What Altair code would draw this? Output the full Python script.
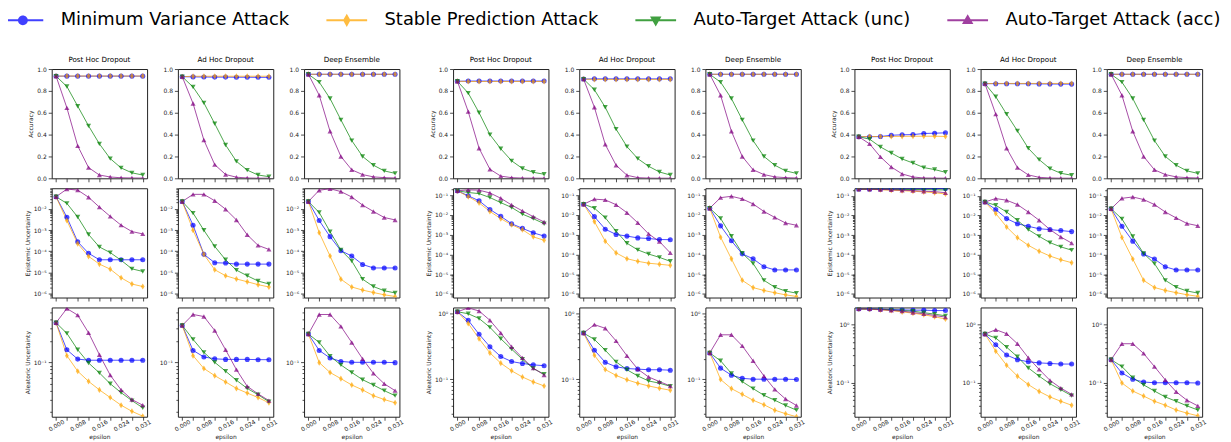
import altair as alt
import pandas as pd

# ---------------- data ----------------
EPS = [0.0, 0.00392, 0.00784, 0.01176, 0.01569, 0.01961, 0.02353, 0.02745, 0.03137]
SERIES = ["Minimum Variance Attack", "Stable Prediction Attack",
          "Auto-Target Attack (unc)", "Auto-Target Attack (acc)"]
COLORS = ["#0000ff", "#ffa500", "#008000", "#800080"]
METHODS = ["Post Hoc Dropout", "Ad Hoc Dropout", "Deep Ensemble"]
ROW_TITLES = ["Accuracy", "Epistemic Uncertainty", "Aleatoric Uncertainty"]

# ---- group 1 ----
acc_g1_phd_mv = [0.935, 0.935, 0.935, 0.935, 0.935, 0.935, 0.935, 0.935, 0.935]
acc_g1_phd_sp = [0.935, 0.936, 0.936, 0.936, 0.936, 0.936, 0.936, 0.936, 0.936]
acc_g1_phd_unc = [0.935, 0.84, 0.66, 0.48, 0.315, 0.18, 0.095, 0.05, 0.03]
acc_g1_phd_acc = [0.935, 0.645, 0.297, 0.098, 0.03, 0.012, 0.005, 0.003, 0.002]
acc_g1_ahd_mv = [0.93, 0.928, 0.927, 0.926, 0.926, 0.925, 0.925, 0.924, 0.924]
acc_g1_ahd_sp = [0.93, 0.934, 0.934, 0.934, 0.934, 0.934, 0.934, 0.934, 0.934]
acc_g1_ahd_unc = [0.93, 0.835, 0.69, 0.50, 0.305, 0.155, 0.075, 0.03, 0.015]
acc_g1_ahd_acc = [0.93, 0.685, 0.35, 0.125, 0.035, 0.01, 0.003, 0.001, 0.001]

epi_g1_phd_mv = [0.037, 4.0e-3, 2.8e-4, 8.1e-5, 4.0e-5, 4.0e-5, 4.0e-5, 4.0e-5, 4.0e-5]
epi_g1_phd_sp = [0.037, 2.8e-3, 2.3e-4, 5.8e-5, 2.5e-5, 1.45e-5, 5.7e-6, 2.9e-6, 2.2e-6]
epi_g1_phd_unc = [0.037, 0.018, 4.1e-3, 6.2e-4, 1.6e-4, 8.7e-5, 3.8e-5, 1.5e-5, 1.13e-5]
epi_g1_phd_acc = [0.037, 0.085, 0.076, 0.035, 0.012, 4.4e-3, 1.7e-3, 8.5e-4, 6.6e-4]
epi_g1_ahd_mv = [0.022, 1.7e-3, 7.2e-5, 2.9e-5, 2.8e-5, 2.5e-5, 2.5e-5, 2.5e-5, 2.5e-5]
epi_g1_ahd_sp = [0.022, 9.8e-4, 7.2e-5, 1.36e-5, 7.1e-6, 5.0e-6, 3.7e-6, 2.7e-6, 2.1e-6]
epi_g1_ahd_unc = [0.022, 6.3e-3, 9.8e-4, 1.7e-4, 4.0e-5, 1.3e-5, 7.1e-6, 4.0e-6, 2.9e-6]
epi_g1_ahd_acc = [0.022, 0.048, 0.048, 0.024, 9.6e-3, 3.0e-3, 6.0e-4, 1.9e-4, 1.23e-4]

ale_g1_phd_mv = [0.36, 0.15, 0.111, 0.107, 0.107, 0.107, 0.107, 0.107, 0.107]
ale_g1_phd_sp = [0.36, 0.124, 0.075, 0.054, 0.041, 0.032, 0.025, 0.0205, 0.0175]
ale_g1_phd_unc = [0.36, 0.255, 0.15, 0.098, 0.071, 0.050, 0.0375, 0.029, 0.023]
ale_g1_phd_acc = [0.36, 0.57, 0.46, 0.26, 0.128, 0.066, 0.041, 0.030, 0.025]
ale_g1_ahd_mv = [0.33, 0.147, 0.119, 0.112, 0.11, 0.11, 0.11, 0.109, 0.109]
ale_g1_ahd_sp = [0.33, 0.124, 0.082, 0.065, 0.053, 0.043, 0.037, 0.032, 0.027]
ale_g1_ahd_unc = [0.33, 0.21, 0.138, 0.10, 0.075, 0.056, 0.043, 0.035, 0.028]
ale_g1_ahd_acc = [0.33, 0.47, 0.44, 0.28, 0.15, 0.079, 0.046, 0.036, 0.029]

# ---- group 2 ----
acc_g2_phd_mv = [0.888, 0.89, 0.89, 0.89, 0.89, 0.89, 0.89, 0.89, 0.89]
acc_g2_phd_sp = [0.888, 0.886, 0.886, 0.886, 0.886, 0.886, 0.886, 0.886, 0.886]
acc_g2_phd_unc = [0.888, 0.78, 0.60, 0.40, 0.27, 0.16, 0.09, 0.055, 0.037]
acc_g2_phd_acc = [0.888, 0.61, 0.275, 0.083, 0.02, 0.006, 0.002, 0.001, 0.001]
acc_g2_ahd_mv = [0.908, 0.91, 0.91, 0.91, 0.91, 0.91, 0.91, 0.91, 0.91]
acc_g2_ahd_sp = [0.908, 0.905, 0.905, 0.905, 0.905, 0.905, 0.905, 0.905, 0.905]
acc_g2_ahd_unc = [0.908, 0.81, 0.65, 0.45, 0.29, 0.18, 0.11, 0.058, 0.03]
acc_g2_ahd_acc = [0.908, 0.65, 0.31, 0.12, 0.028, 0.006, 0.002, 0.001, 0.001]

epi_g2_phd_mv = [0.166, 0.093, 0.052, 0.019, 0.0085, 0.0036, 0.0021, 0.00125, 0.00085]
epi_g2_phd_sp = [0.166, 0.085, 0.041, 0.015, 0.0065, 0.0032, 0.0018, 7.8e-4, 5.2e-4]
epi_g2_phd_unc = [0.166, 0.137, 0.12, 0.076, 0.042, 0.024, 0.011, 0.0065, 0.0036]
epi_g2_phd_acc = [0.166, 0.187, 0.18, 0.13, 0.07, 0.032, 0.016, 0.0082, 0.0044]
epi_g2_ahd_mv = [0.035, 0.0082, 0.0019, 0.00103, 8.5e-4, 6.9e-4, 6.4e-4, 5.7e-4, 5.6e-4]
epi_g2_ahd_sp = [0.035, 0.0046, 4.7e-4, 1.2e-4, 6.1e-5, 4.5e-5, 3.6e-5, 3.2e-5, 2.8e-5]
epi_g2_ahd_unc = [0.035, 0.022, 0.0073, 0.0015, 3.7e-4, 1.7e-4, 1.05e-4, 7.1e-5, 4.5e-5]
epi_g2_ahd_acc = [0.035, 0.063, 0.058, 0.033, 0.013, 0.0040, 0.0011, 4.5e-4, 1.2e-4]

ale_g2_phd_mv = [1.05, 0.78, 0.48, 0.31, 0.22, 0.185, 0.173, 0.165, 0.16]
ale_g2_phd_sp = [1.05, 0.70, 0.41, 0.25, 0.175, 0.134, 0.108, 0.091, 0.079]
ale_g2_phd_unc = [1.05, 0.98, 0.83, 0.61, 0.41, 0.285, 0.20, 0.145, 0.119]
ale_g2_phd_acc = [1.05, 1.2, 1.08, 0.78, 0.50, 0.31, 0.21, 0.147, 0.116]
ale_g2_ahd_mv = [0.50, 0.275, 0.18, 0.154, 0.145, 0.142, 0.139, 0.139, 0.137]
ale_g2_ahd_sp = [0.50, 0.23, 0.14, 0.114, 0.098, 0.087, 0.079, 0.073, 0.068]
ale_g2_ahd_unc = [0.50, 0.40, 0.275, 0.183, 0.139, 0.112, 0.094, 0.087, 0.078]
ale_g2_ahd_acc = [0.50, 0.67, 0.59, 0.38, 0.226, 0.142, 0.108, 0.092, 0.079]

# ---- group 3 ----
acc_g3_phd_mv = [0.38, 0.38, 0.382, 0.394, 0.398, 0.40, 0.41, 0.413, 0.416]
acc_g3_phd_sp = [0.38, 0.383, 0.382, 0.383, 0.384, 0.385, 0.385, 0.385, 0.383]
acc_g3_phd_unc = [0.38, 0.358, 0.287, 0.232, 0.177, 0.14, 0.098, 0.08, 0.055]
acc_g3_phd_acc = [0.38, 0.315, 0.196, 0.104, 0.04, 0.012, 0.003, 0.002, 0.001]
acc_g3_ahd_mv = [0.866, 0.866, 0.866, 0.865, 0.865, 0.864, 0.863, 0.862, 0.862]
acc_g3_ahd_sp = [0.866, 0.868, 0.868, 0.868, 0.868, 0.868, 0.868, 0.868, 0.868]
acc_g3_ahd_unc = [0.866, 0.746, 0.587, 0.434, 0.275, 0.171, 0.089, 0.046, 0.028]
acc_g3_ahd_acc = [0.866, 0.587, 0.275, 0.098, 0.031, 0.009, 0.003, 0.001, 0.001]

epi_g3_phd_mv = [0.22, 0.22, 0.222, 0.224, 0.226, 0.228, 0.232, 0.236, 0.24]
epi_g3_phd_sp = [0.22, 0.215, 0.205, 0.195, 0.185, 0.172, 0.16, 0.145, 0.125]
epi_g3_phd_unc = [0.22, 0.22, 0.218, 0.215, 0.212, 0.21, 0.208, 0.205, 0.2]
epi_g3_phd_acc = [0.22, 0.22, 0.212, 0.205, 0.195, 0.185, 0.172, 0.165, 0.145]
epi_g3_ahd_mv = [0.049, 0.020, 0.0069, 0.0038, 0.0028, 0.0021, 0.0019, 0.0017, 0.0015]
epi_g3_ahd_sp = [0.049, 0.0125, 0.0026, 7.4e-4, 3.0e-4, 1.5e-4, 8.5e-5, 5.5e-5, 3.9e-5]
epi_g3_ahd_unc = [0.049, 0.033, 0.015, 0.0057, 0.0019, 8.6e-4, 4.1e-4, 2.5e-4, 1.7e-4]
epi_g3_ahd_acc = [0.049, 0.073, 0.060, 0.036, 0.015, 0.0057, 0.0019, 8.0e-4, 3.9e-4]

ale_g3_phd_mv = [1.87, 1.87, 1.85, 1.83, 1.80, 1.78, 1.78, 1.75, 1.75]
ale_g3_phd_sp = [1.87, 1.84, 1.80, 1.75, 1.66, 1.58, 1.48, 1.37, 1.25]
ale_g3_phd_unc = [1.87, 1.87, 1.85, 1.80, 1.75, 1.71, 1.61, 1.52, 1.42]
ale_g3_phd_acc = [1.87, 1.87, 1.82, 1.77, 1.71, 1.62, 1.54, 1.44, 1.35]
ale_g3_ahd_mv = [0.69, 0.45, 0.30, 0.25, 0.23, 0.22, 0.215, 0.21, 0.21]
ale_g3_ahd_sp = [0.69, 0.35, 0.20, 0.13, 0.093, 0.071, 0.057, 0.048, 0.041]
ale_g3_ahd_unc = [0.69, 0.59, 0.41, 0.28, 0.18, 0.13, 0.096, 0.076, 0.06]
ale_g3_ahd_acc = [0.69, 0.82, 0.70, 0.47, 0.27, 0.17, 0.11, 0.081, 0.063]

# ---- Deep Ensemble (identical in all three groups) ----
acc_de_mv = [0.952, 0.952, 0.952, 0.952, 0.952, 0.952, 0.952, 0.952, 0.952]
acc_de_sp = [0.952, 0.952, 0.952, 0.952, 0.952, 0.952, 0.952, 0.952, 0.952]
acc_de_unc = [0.952, 0.88, 0.73, 0.535, 0.345, 0.20, 0.12, 0.068, 0.045]
acc_de_acc = [0.952, 0.76, 0.43, 0.20, 0.078, 0.034, 0.013, 0.006, 0.003]
epi_de_mv = [0.022, 2.8e-3, 4.9e-4, 1.07e-4, 6.0e-5, 2.4e-5, 1.65e-5, 1.65e-5, 1.65e-5]
epi_de_sp = [0.022, 7.5e-4, 6.0e-5, 4.9e-6, 2.1e-6, 1.5e-6, 1.15e-6, 9.0e-7, 7.5e-7]
epi_de_unc = [0.022, 6.7e-3, 8.4e-4, 1.15e-4, 3.5e-5, 4.9e-6, 2.2e-6, 1.4e-6, 1.1e-6]
epi_de_acc = [0.022, 0.075, 0.088, 0.065, 0.036, 0.015, 0.0075, 0.0039, 0.0030]
ale_de_mv = [0.25, 0.147, 0.115, 0.103, 0.10, 0.10, 0.10, 0.10, 0.099]
ale_de_sp = [0.25, 0.099, 0.072, 0.059, 0.048, 0.041, 0.034, 0.030, 0.027]
ale_de_unc = [0.25, 0.19, 0.122, 0.092, 0.072, 0.057, 0.048, 0.040, 0.034]
ale_de_acc = [0.25, 0.47, 0.47, 0.32, 0.19, 0.112, 0.070, 0.050, 0.040]

# log-axis domains per group (epistemic, aleatoric)
EPI_DOMAINS = [[6.7e-7, 0.093], [6.6e-7, 0.225], [6.5e-7, 0.245]]
ALE_DOMAINS = [[0.0172, 0.59], [0.027, 1.22], [0.026, 1.98]]

PANELS = {
    (0, 0, 0): [acc_g1_phd_mv, acc_g1_phd_sp, acc_g1_phd_unc, acc_g1_phd_acc],
    (0, 0, 1): [acc_g1_ahd_mv, acc_g1_ahd_sp, acc_g1_ahd_unc, acc_g1_ahd_acc],
    (0, 1, 0): [epi_g1_phd_mv, epi_g1_phd_sp, epi_g1_phd_unc, epi_g1_phd_acc],
    (0, 1, 1): [epi_g1_ahd_mv, epi_g1_ahd_sp, epi_g1_ahd_unc, epi_g1_ahd_acc],
    (0, 2, 0): [ale_g1_phd_mv, ale_g1_phd_sp, ale_g1_phd_unc, ale_g1_phd_acc],
    (0, 2, 1): [ale_g1_ahd_mv, ale_g1_ahd_sp, ale_g1_ahd_unc, ale_g1_ahd_acc],
    (1, 0, 0): [acc_g2_phd_mv, acc_g2_phd_sp, acc_g2_phd_unc, acc_g2_phd_acc],
    (1, 0, 1): [acc_g2_ahd_mv, acc_g2_ahd_sp, acc_g2_ahd_unc, acc_g2_ahd_acc],
    (1, 1, 0): [epi_g2_phd_mv, epi_g2_phd_sp, epi_g2_phd_unc, epi_g2_phd_acc],
    (1, 1, 1): [epi_g2_ahd_mv, epi_g2_ahd_sp, epi_g2_ahd_unc, epi_g2_ahd_acc],
    (1, 2, 0): [ale_g2_phd_mv, ale_g2_phd_sp, ale_g2_phd_unc, ale_g2_phd_acc],
    (1, 2, 1): [ale_g2_ahd_mv, ale_g2_ahd_sp, ale_g2_ahd_unc, ale_g2_ahd_acc],
    (2, 0, 0): [acc_g3_phd_mv, acc_g3_phd_sp, acc_g3_phd_unc, acc_g3_phd_acc],
    (2, 0, 1): [acc_g3_ahd_mv, acc_g3_ahd_sp, acc_g3_ahd_unc, acc_g3_ahd_acc],
    (2, 1, 0): [epi_g3_phd_mv, epi_g3_phd_sp, epi_g3_phd_unc, epi_g3_phd_acc],
    (2, 1, 1): [epi_g3_ahd_mv, epi_g3_ahd_sp, epi_g3_ahd_unc, epi_g3_ahd_acc],
    (2, 2, 0): [ale_g3_phd_mv, ale_g3_phd_sp, ale_g3_phd_unc, ale_g3_phd_acc],
    (2, 2, 1): [ale_g3_ahd_mv, ale_g3_ahd_sp, ale_g3_ahd_unc, ale_g3_ahd_acc],
}
for _g in range(3):
    PANELS[(_g, 0, 2)] = [acc_de_mv, acc_de_sp, acc_de_unc, acc_de_acc]
    PANELS[(_g, 1, 2)] = [epi_de_mv, epi_de_sp, epi_de_unc, epi_de_acc]
    PANELS[(_g, 2, 2)] = [ale_de_mv, ale_de_sp, ale_de_unc, ale_de_acc]

# ---------------- styling ----------------
FONT = "DejaVu Sans"
PW, PH = 96, 110
XDOM = [-0.00157, 0.03294]
THIN_DIAMOND = "M0,-1.2L0.75,0L0,1.2L-0.75,0Z"
PANEL_SHAPES = ["circle", THIN_DIAMOND, "triangle-down", "triangle-up"]
LINE = "M-4.1,-0.2H4.1V0.2H-4.1Z "
LEGEND_SHAPES = [
    LINE + "M1,0A1,1,0,1,1,-1,0A1,1,0,1,1,1,0Z",
    LINE + "M0,-1.35L0.75,0L0,1.35L-0.75,0Z",
    LINE + "M-1.15,-0.75L1.15,-0.75L0,1.25Z",
    LINE + "M0,-1.25L1.15,0.75L-1.15,0.75Z",
]
LOG_LABEL = ("datum.value < 3e-7 ? '10⁻⁷' : datum.value < 3e-6 ? '10⁻⁶' : "
             "datum.value < 3e-5 ? '10⁻⁵' : datum.value < 3e-4 ? '10⁻⁴' : "
             "datum.value < 3e-3 ? '10⁻³' : datum.value < 3e-2 ? '10⁻²' : "
             "datum.value < 0.3 ? '10⁻¹' : '10⁰'")
X_LABEL = "round(datum.value * 255) % 2 == 0 ? format(datum.value, '.3f') : ''"


def log_ticks(lo, hi):
    major, minor = [], []
    for k in range(-8, 2):
        for m in range(1, 10):
            v = float(f"{m}e{k}")
            if lo <= v <= hi:
                (major if m == 1 else minor).append(v)
    return major, minor


def panel(g, r, c):
    vals = PANELS[(g, r, c)]
    recs = []
    for s, series_vals in zip(SERIES, vals):
        for e, v in zip(EPS, series_vals):
            recs.append({"eps": e, "series": s, "value": v})
    df = pd.DataFrame(recs)
    base = alt.Chart(df)
    bottom = r == 2
    xaxis = alt.Axis(values=EPS, labels=bottom, labelExpr=X_LABEL,
                     title="epsilon" if bottom else None)
    x = alt.X("eps:Q", scale=alt.Scale(domain=XDOM, nice=False, zero=False), axis=xaxis)
    color = alt.Color("series:N", scale=alt.Scale(domain=SERIES, range=COLORS), legend=None)
    shape = alt.Shape("series:N", scale=alt.Scale(domain=SERIES, range=PANEL_SHAPES), legend=None)
    ytitle = ROW_TITLES[r] if c == 0 else None
    if r == 0:
        yscale = alt.Scale(domain=[0, 1], nice=False, zero=False)
        ymain = alt.Axis(values=[0, 0.2, 0.4, 0.6, 0.8, 1.0], format=".1f", title=ytitle)
        ypts = ymain
    else:
        dom = EPI_DOMAINS[g] if r == 1 else ALE_DOMAINS[g]
        major, minor = log_ticks(dom[0], dom[1])
        yscale = alt.Scale(type="log", domain=dom, nice=False)
        ymain = alt.Axis(values=major, labelExpr=LOG_LABEL, title=ytitle)
        ypts = alt.Axis(values=minor, labels=False, tickSize=2, title=None, orient="left")
    line = base.mark_line(strokeWidth=1, opacity=0.7, clip=True).encode(
        x=x, y=alt.Y("value:Q", scale=yscale, axis=ymain), color=color)
    pts = base.mark_point(filled=True, size=26, opacity=0.7, clip=True).encode(
        x=x, y=alt.Y("value:Q", scale=yscale, axis=ypts), color=color, shape=shape)
    layer = alt.layer(line, pts)
    if r > 0:
        layer = layer.resolve_axis(y="independent")
    props = dict(width=PW, height=PH)
    if r == 0:
        props["title"] = alt.TitleParams(METHODS[c], fontSize=7.2, fontWeight="normal",
                                         offset=3, font=FONT, color="black", anchor="middle")
    return layer.properties(**props)


groups = []
for g in range(3):
    cells = [panel(g, r, c) for r in range(3) for c in range(3)]
    groups.append(alt.concat(*cells, columns=3, spacing={"row": 10, "column": 31},
                             bounds="flush"))
groups_row = alt.hconcat(*groups, spacing=19)

legend_df = pd.DataFrame({"series": SERIES})
spacer = alt.Chart(legend_df).mark_point().transform_filter("false").properties(
    width=1, height=1, view=alt.ViewBackground(stroke="transparent"))
body = alt.hconcat(spacer, groups_row, spacing=8)

leg = alt.Legend(title=None, orient="top", direction="horizontal", columns=4,
                 symbolSize=100, symbolOpacity=0.75, symbolStrokeWidth=0,
                 labelFontSize=18, labelFont=FONT, labelColor="black", labelLimit=500,
                 labelOffset=29, columnPadding=36, offset=0, padding=1)
legend_chart = alt.Chart(legend_df).mark_point(filled=True).encode(
    color=alt.Color("series:N", scale=alt.Scale(domain=SERIES, range=COLORS), legend=leg),
    shape=alt.Shape("series:N", scale=alt.Scale(domain=SERIES, range=LEGEND_SHAPES), legend=leg),
).transform_filter("false").properties(width=1, height=1,
                                       view=alt.ViewBackground(stroke="transparent"))

chart = alt.vconcat(legend_chart, body, spacing=23).resolve_scale(
    color="independent", shape="independent"
).properties(padding={"left": 4, "top": 0, "right": 0, "bottom": 0},
             background="white").configure(font=FONT).configure_view(
    stroke="#222", strokeWidth=1
).configure_axis(
    labelFontSize=6, titleFontSize=6, titleFontWeight="normal", tickSize=3.5, tickWidth=0.8,
    tickColor="#222", labelColor="#222", titleColor="#222", grid=False, domain=False,
    labelFlush=False, labelOverlap=False, labelFont=FONT, titleFont=FONT
).configure_axisX(
    labelAngle=330, labelAlign="center", labelBaseline="middle", labelPadding=5, titlePadding=2
).configure_axisY(
    labelPadding=2, titlePadding=3
)

chart.save("out.html", embed_options={"renderer": "svg", "actions": False})
